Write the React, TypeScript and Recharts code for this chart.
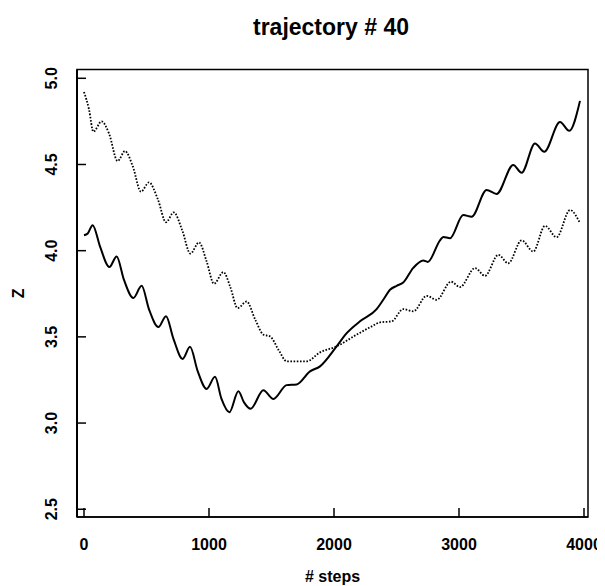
import React from 'react';
import { LineChart, Line, XAxis, YAxis, ReferenceArea } from 'recharts';

// Solid trajectory: steps and Z values
const solidSteps = [0, 30, 69, 130, 203, 261, 320, 395, 461, 520, 595, 656, 715, 789, 848, 910, 981, 1048, 1100, 1163, 1235, 1280, 1333, 1435, 1515, 1621, 1701, 1808, 1888, 2021, 2100, 2208, 2341, 2394, 2448, 2501, 2554, 2634, 2714, 2750, 2848, 2874, 2928, 3034, 3101, 3221, 3301, 3434, 3501, 3608, 3682, 3808, 3882, 3968];
const solidZ = [4.09, 4.1, 4.148, 4.02, 3.905, 3.966, 3.83, 3.725, 3.796, 3.66, 3.557, 3.62, 3.49, 3.372, 3.442, 3.3, 3.198, 3.268, 3.14, 3.063, 3.185, 3.12, 3.083, 3.19, 3.14, 3.22, 3.224, 3.3, 3.329, 3.445, 3.52, 3.59, 3.661, 3.715, 3.773, 3.796, 3.815, 3.9, 3.943, 3.935, 4.06, 4.08, 4.072, 4.207, 4.197, 4.352, 4.329, 4.497, 4.452, 4.622, 4.574, 4.747, 4.695, 4.869];

// Dotted trajectory: steps and Z values
const dottedSteps = [0, 40, 75, 141, 200, 269, 328, 390, 456, 520, 590, 656, 718, 785, 851, 920, 980, 1040, 1115, 1170, 1229, 1301, 1370, 1435, 1488, 1560, 1621, 1781, 1888, 2021, 2181, 2300, 2368, 2461, 2554, 2635, 2741, 2821, 2936, 3008, 3128, 3208, 3315, 3394, 3501, 3594, 3688, 3781, 3888, 3968];
const dottedZ = [4.92, 4.82, 4.69, 4.75, 4.68, 4.52, 4.578, 4.49, 4.342, 4.396, 4.3, 4.165, 4.222, 4.12, 3.983, 4.048, 3.94, 3.808, 3.876, 3.79, 3.667, 3.705, 3.6, 3.513, 3.503, 3.42, 3.358, 3.358, 3.41, 3.445, 3.513, 3.56, 3.584, 3.59, 3.661, 3.648, 3.738, 3.715, 3.82, 3.789, 3.899, 3.854, 3.976, 3.927, 4.06, 3.995, 4.144, 4.078, 4.236, 4.159];

const xTicks = [0, 1000, 2000, 3000, 4000];
const yTicks = [2.5, 3.0, 3.5, 4.0, 4.5, 5.0];

const titleText = 'trajectory # 40';
const xTitle = '# steps';
const yTitle = 'Z';

const solidData = solidSteps.map((s, i) => ({ step: s, z: solidZ[i] }));
const dottedData = dottedSteps.map((s, i) => ({ step: s, z: dottedZ[i] }));

const FONT = '"Liberation Sans", Arial, Helvetica, sans-serif';

const XTick = (props: any) => {
  const { x, y, payload } = props;
  return (
    <g>
      <line x1={x} x2={x} y1={y} y2={y - 9} stroke="#000" strokeWidth={1.5} />
      <text x={x} y={y + 33} textAnchor="middle" fontFamily={FONT} fontSize={16} fontWeight="bold" fill="#000">
        {String(payload.value)}
      </text>
    </g>
  );
};

const YTick = (props: any) => {
  const { x, y, payload } = props;
  const bx = x - 20;
  return (
    <g>
      <line x1={x} x2={x + 9} y1={y} y2={y} stroke="#000" strokeWidth={1.5} />
      <text
        x={bx}
        y={y}
        transform={`rotate(-90, ${bx}, ${y})`}
        textAnchor="middle"
        fontFamily={FONT}
        fontSize={16}
        fontWeight="bold"
        fill="#000"
      >
        {Number(payload.value).toFixed(1)}
      </text>
    </g>
  );
};

const YTitle = (props: any) => {
  const vb = props.viewBox || { x: 0, y: 0, width: 0, height: 0 };
  const bx = vb.x + 16;
  const cy = vb.y + vb.height / 2;
  return (
    <text x={bx} y={cy} transform={`rotate(-90, ${bx}, ${cy})`} textAnchor="middle" fontFamily={FONT} fontSize={16} fontWeight="bold" fill="#000">
      {yTitle}
    </text>
  );
};

const XTitle = (props: any) => {
  const vb = props.viewBox || { x: 0, y: 0, width: 0, height: 0 };
  return (
    <text x={vb.x + vb.width / 2} y={vb.y + 65} textAnchor="middle" fontFamily={FONT} fontSize={16} fontWeight="bold" fill="#000">
      {xTitle}
    </text>
  );
};

export default function App() {
  return (
    <div style={{ position: 'relative', width: 597, height: 578 }}>
      <div
        style={{
          position: 'absolute',
          left: 0,
          width: 646,
          top: 7,
          textAlign: 'center',
          fontFamily: FONT,
          fontSize: 23,
          fontWeight: 'bold',
          lineHeight: '24px',
          color: '#000',
          whiteSpace: 'nowrap',
        }}
      >
        {titleText}
      </div>
      <LineChart width={597} height={578} margin={{ top: 61.5, right: 17, bottom: 0, left: 0 }}>
        <XAxis
          dataKey="step"
          type="number"
          domain={[-56, 4032]}
          ticks={xTicks}
          allowDataOverflow
          height={69}
          tickSize={0}
          tickMargin={0}
          tickLine={false}
          tick={<XTick />}
          stroke="#000"
          strokeWidth={1.5}
          label={<XTitle />}
        />
        <YAxis
          dataKey="z"
          type="number"
          domain={[2.455, 5.051]}
          ticks={yTicks}
          allowDataOverflow
          width={69}
          tickSize={0}
          tickMargin={0}
          tickLine={false}
          tick={<YTick />}
          stroke="#000"
          strokeWidth={2}
          label={<YTitle />}
        />
        <ReferenceArea x1={-56} x2={4032} y1={2.455} y2={5.051} fill="none" stroke="#000" strokeWidth={1.5} ifOverflow="visible" />
        <Line
          data={dottedData}
          dataKey="z"
          type="monotone"
          stroke="#000"
          strokeWidth={1.8}
          strokeDasharray="1.6 1.6"
          dot={false}
          activeDot={false}
          isAnimationActive={false}
        />
        <Line
          data={solidData}
          dataKey="z"
          type="monotone"
          stroke="#000"
          strokeWidth={2}
          dot={false}
          activeDot={false}
          isAnimationActive={false}
        />
      </LineChart>
    </div>
  );
}
